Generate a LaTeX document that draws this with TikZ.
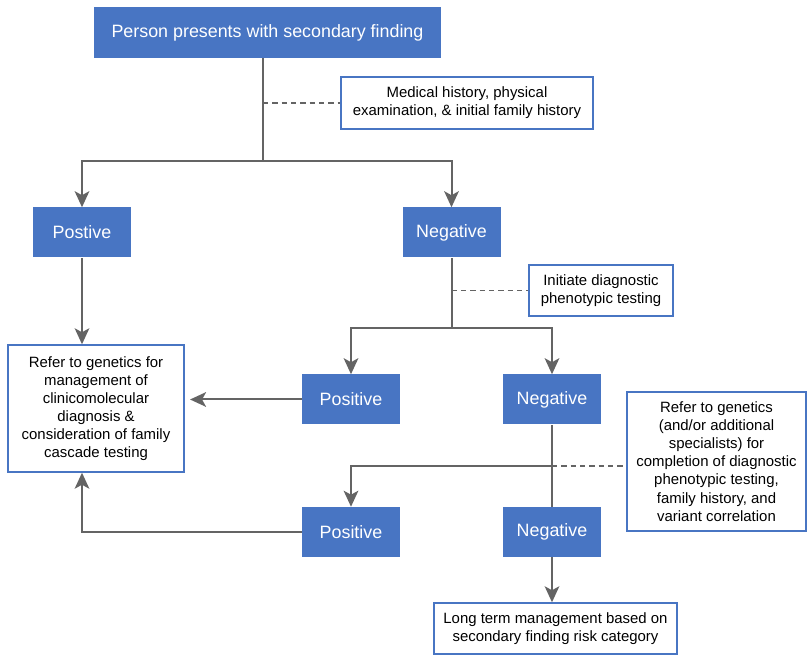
\documentclass[tikz,border=0pt]{standalone}
\usepackage{fontspec}
\setmainfont{Liberation Sans}
\usetikzlibrary{arrows.meta}
\definecolor{boxblue}{RGB}{72,117,195}
\definecolor{linegray}{RGB}{100,100,100}
\begin{document}
\begin{tikzpicture}[x=0.75pt,y=-0.75pt,
    bluebox/.style={fill=boxblue,draw=none,text=white,align=center,inner sep=0pt,
      minimum width=73.5pt,minimum height=37.5pt,font=\fontsize{13.4}{16}\selectfont},
    notebox/.style={fill=white,draw=boxblue,line width=1.1pt,align=center,inner sep=0pt,
      font=\fontsize{11.2}{13.6}\selectfont},
    link/.style={draw=linegray,line width=1.5pt},
    arrow/.style={link,-{Stealth[length=12pt,width=11pt,inset=3pt]}},
    dashline/.style={draw=linegray,line width=1.2pt,dash pattern=on 4pt off 3pt}]
    \useasboundingbox (0,0) rectangle (808,655);

    \node[bluebox,minimum width=260.25pt,minimum height=38.25pt] (title) at (267.5,32.5) {Person presents with secondary finding};
    \node[notebox,minimum width=189pt,minimum height=39pt] (med) at (467,103) {Medical history, physical\\examination, \& initial family history};

    \node[bluebox] (pos1) at (82,232.5) {Postive};
    \node[bluebox] (neg1) at (451.5,232.5) {Negative};
    \node[notebox,minimum width=108pt,minimum height=38.25pt] (init) at (601,290.5) {Initiate diagnostic\\phenotypic testing};

    \node[notebox,minimum width=132pt,minimum height=95.25pt] (refer1) at (96,408.5) {Refer to genetics for\\management of\\clinicomolecular\\diagnosis \&\\consideration of family\\cascade testing};
    \node[bluebox] (pos2) at (351,399.5) {Positive};
    \node[bluebox] (neg2) at (552,399.5) {Negative};
    \node[notebox,minimum width=134.25pt,minimum height=104.25pt] (refer2) at (716.5,461.5) {Refer to genetics\\(and/or additional\\specialists) for\\completion of diagnostic\\phenotypic testing,\\family history, and\\variant correlation};

    \node[bluebox] (pos3) at (351,532) {Positive};
    \node[bluebox] (neg3) at (552,532) {Negative};
    \node[notebox,minimum width=182.25pt,minimum height=38.25pt] (long) at (555.5,628.5) {Long term management based on\\secondary finding risk category};

    \coordinate (split1) at (263,161);
    \coordinate (split2) at (451.5,328);
    \coordinate (split3) at (552,466);

    \draw[link] (title.south -| split1) -- (split1);
    \draw[dashline] (split1 |- med.west) -- (med.west);
    \draw[arrow] (split1) -| (pos1.north);
    \draw[arrow] (split1) -| (neg1.north);

    \draw[arrow] (pos1.south) -- (pos1.south |- refer1.north);
    \draw[link] (neg1.south) -- (split2);
    \draw[dashline] (split2 |- init.west) -- (init.west);
    \draw[arrow] (split2) -| (pos2.north);
    \draw[arrow] (split2) -| (neg2.north);

    \draw[arrow,shorten >=4pt] (pos2.west) -- (pos2.west -| refer1.east);
    \draw[link] (neg2.south) -- (neg3.north);
    \draw[arrow] (split3) -| (pos3.north);
    \draw[dashline] (split3) -- (split3 -| refer2.west);

    \draw[arrow] (pos3.west) -| (pos1.south |- refer1.south);
    \draw[arrow] (neg3.south) -- (neg3.south |- long.north);
\end{tikzpicture}
\end{document}
